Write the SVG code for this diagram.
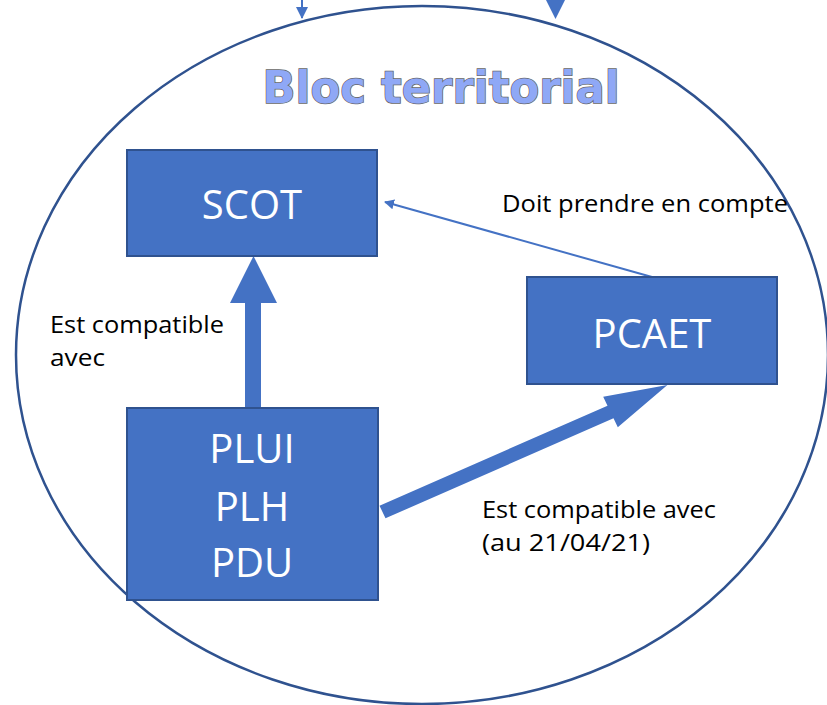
<svg xmlns="http://www.w3.org/2000/svg" width="827" height="705" viewBox="0 0 827 705">
<defs>
<style>
.box{fill:#4472C4;stroke:#2F528F;stroke-width:2}
.bt{fill:#fff;font-family:"Open Sans","Liberation Sans",sans-serif;font-size:40px;text-anchor:middle}
.lbl{fill:#000;font-family:"Open Sans","Liberation Sans",sans-serif;font-size:24px}
.fat{fill:#4472C4}
</style>
<marker id="ah" markerWidth="10" markerHeight="10" refX="9" refY="5" orient="auto" markerUnits="userSpaceOnUse" viewBox="0 0 10 10">
<path d="M0,0 L10,5 L0,10 z" fill="#4472C4"/>
</marker>
<marker id="ah2" markerWidth="12" markerHeight="12" refX="11" refY="6" orient="auto" markerUnits="userSpaceOnUse" viewBox="0 0 12 12">
<path d="M0,0 L12,6 L0,12 z" fill="#4472C4"/>
</marker>
</defs>
<rect width="827" height="705" fill="#fff"/>
<ellipse id="bloc" cx="422" cy="355" rx="406" ry="349" fill="none" stroke="#2F528F" stroke-width="2.5"/>
<g id="connectors">
<line x1="302" y1="0" x2="302" y2="18" stroke="#4472C4" stroke-width="2" marker-end="url(#ah2)"/>
<polygon points="546,0 565,0 555.5,19" fill="#4472C4"/>
<line x1="652" y1="277" x2="385" y2="202" stroke="#4472C4" stroke-width="2" marker-end="url(#ah)"/>
<polygon class="fat" points="245,409 245,303 230,303 253.5,256 277,303 261,303 261,409"/>
<polygon class="fat" points="379.5,505.7 607.5,405.7 603.2,396.7 667.4,384.9 617.8,427.3 613.5,418.3 385.5,518.3"/>
</g>
<g id="title">
<text x="441" y="103" text-anchor="middle" font-family="DejaVu Sans, sans-serif" font-weight="bold" font-size="45" textLength="357" lengthAdjust="spacingAndGlyphs" fill="#8FA8F6" stroke="#666" stroke-width="1.5" paint-order="stroke">Bloc territorial</text>
</g>
<g id="scot">
<rect class="box" x="127" y="150" width="250" height="106"/>
<text class="bt" x="252" y="219">SCOT</text>
</g>
<g id="pcaet">
<rect class="box" x="527" y="277" width="250" height="107"/>
<text class="bt" x="652" y="348">PCAET</text>
</g>
<g id="plui">
<rect class="box" x="127" y="408" width="251" height="192"/>
<text class="bt" x="252" y="463">PLUI</text>
<text class="bt" x="252" y="521">PLH</text>
<text class="bt" x="252" y="577">PDU</text>
</g>
<g id="labels">
<text class="lbl" x="502" y="212" textLength="286" lengthAdjust="spacingAndGlyphs">Doit prendre en compte</text>
<text class="lbl" x="50" y="333" textLength="174" lengthAdjust="spacingAndGlyphs">Est compatible</text>
<text class="lbl" x="50" y="366" textLength="55" lengthAdjust="spacingAndGlyphs">avec</text>
<text class="lbl" x="482" y="518" textLength="234" lengthAdjust="spacingAndGlyphs">Est compatible avec</text>
<text class="lbl" x="482" y="551" textLength="168" lengthAdjust="spacingAndGlyphs">(au 21/04/21)</text>
</g>
</svg>
